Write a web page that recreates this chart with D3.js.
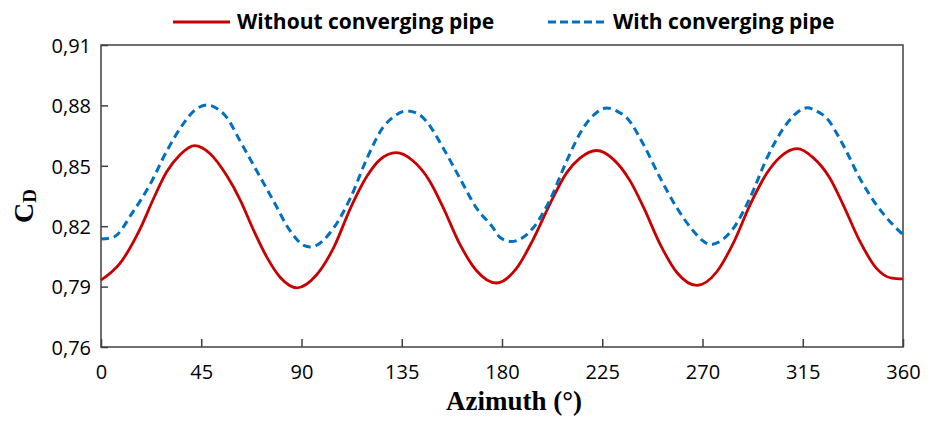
<!DOCTYPE html>
<html lang="en">
<head>
    <meta charset="utf-8">
    <style>
        body { margin: 0; background: #fff; }
        .tick text { font-family: "Open Sans", sans-serif; font-size: 20px; fill: #000; }
        .legend text { font-family: "Open Sans", sans-serif; font-size: 21px; font-weight: bold; fill: #000; }
    </style>
</head>
<body>
<svg id="mainSVG" width="935" height="421"></svg>
<script src="https://cdn.jsdelivr.net/npm/d3@7"></script>
<script>

    // drag coefficient vs azimuth, without the converging pipe
    var azWithout = [0, 8.5, 17.5, 23.5, 29.5, 35.5, 42, 49, 56.5, 62.5, 68.5, 74.5, 80.5, 88,
        96.5, 104.5, 112, 119.5, 125, 132.5, 140, 147.5, 153.5, 161, 168.5, 177.5,
        186.5, 194, 201.5, 209, 215, 222.5, 230, 237.5, 243.5, 251, 258.5, 267.5,
        276.5, 284, 291.5, 299, 305, 312.5, 319.5, 327, 333, 340.5, 348, 355, 360];
    var cdWithout = [0.7932, 0.8015, 0.8185, 0.8335, 0.8470, 0.8555, 0.8600, 0.8560, 0.8450, 0.8330, 0.8180, 0.8045, 0.7945, 0.7894,
        0.7955, 0.8095, 0.8290, 0.8450, 0.8528, 0.8565, 0.8525, 0.8425, 0.8295, 0.8112, 0.7980, 0.7918,
        0.7990, 0.8135, 0.8310, 0.8465, 0.8538, 0.8576, 0.8532, 0.8425, 0.8295, 0.8110, 0.7970, 0.7906,
        0.7975, 0.8120, 0.8310, 0.8465, 0.8545, 0.8585, 0.8542, 0.8442, 0.8310, 0.8128, 0.7992, 0.7942, 0.7938];

    // drag coefficient vs azimuth, with the converging pipe
    var azWith = [0, 5.5, 14.5, 22, 29.5, 37, 42, 47.5, 52, 56.5, 62.5, 70, 77.5, 85, 91, 94,
        104.5, 112, 119.5, 126.5, 131.5, 137, 142, 146, 153.5, 161, 168.5, 176, 179, 184,
        194, 201.5, 209, 216.5, 221.5, 227, 231.5, 236, 243.5, 251, 258.5, 266, 270.5, 273.5,
        284, 291.5, 299, 306.5, 311.5, 317, 321.5, 325.5, 333, 340.5, 348, 354, 360];
    var cdWith = [0.8136, 0.8145, 0.8274, 0.8407, 0.8573, 0.8710, 0.8775, 0.8802, 0.8785, 0.8739, 0.8622, 0.8473, 0.8324, 0.8175, 0.8105, 0.8097,
        0.8192, 0.8341, 0.8540, 0.8689, 0.8745, 0.8772, 0.8760, 0.8722, 0.8590, 0.8440, 0.8291, 0.8192, 0.8145, 0.8124,
        0.8192, 0.8330, 0.8523, 0.8689, 0.8755, 0.8787, 0.8772, 0.8739, 0.8606, 0.8440, 0.8291, 0.8175, 0.8125, 0.8109,
        0.8192, 0.8345, 0.8540, 0.8689, 0.8755, 0.8788, 0.8770, 0.8739, 0.8606, 0.8440, 0.8307, 0.8225, 0.8158];

    var xTicks = [0, 45, 90, 135, 180, 225, 270, 315, 360];
    var yTicks = [0.76, 0.79, 0.82, 0.85, 0.88, 0.91];
    var seriesNames = ["Without converging pipe", "With converging pipe"];

    var svg = d3.select("svg");
    var margin = { left: 101, right: 32, top: 45, bottom: 74 };
    var width = +svg.attr("width"),
        height = +svg.attr("height");

    var x = d3.scaleLinear().domain([0, 360]).range([margin.left, width - margin.right]);
    var y = d3.scaleLinear().domain([0.76, 0.91]).range([height - margin.bottom, margin.top]);

    var axisColor = "#404040";

    // frame
    svg.append("rect")
        .attr("x", x(0)).attr("y", y(0.91))
        .attr("width", x(360) - x(0)).attr("height", y(0.76) - y(0.91))
        .attr("fill", "none").attr("stroke", axisColor).attr("stroke-width", 1.5);

    var xAxis = svg.append("g")
        .attr("transform", "translate(0," + y(0.76) + ")")
        .call(d3.axisBottom(x).tickValues(xTicks).tickSizeInner(-8).tickSizeOuter(0).tickPadding(18));
    xAxis.select(".domain").remove();
    xAxis.selectAll(".tick line").attr("stroke", axisColor).attr("stroke-width", 1.5);

    var yAxis = svg.append("g")
        .attr("transform", "translate(" + x(0) + ",0)")
        .call(d3.axisLeft(y).tickValues(yTicks).tickSizeInner(-7).tickSizeOuter(0).tickPadding(10)
            .tickFormat(function (d) { return d3.format(".2f")(d).replace(".", ","); }));
    yAxis.select(".domain").remove();
    yAxis.selectAll(".tick line").attr("stroke", axisColor).attr("stroke-width", 1.5);
    yAxis.selectAll(".tick text").attr("dy", "0.36em");

    var line = d3.line()
        .x(function (d) { return x(d[0]); })
        .y(function (d) { return y(d[1]); })
        .curve(d3.curveMonotoneX);

    svg.append("path")
        .datum(d3.zip(azWithout, cdWithout))
        .attr("fill", "none")
        .attr("stroke", "#c80000")
        .attr("stroke-width", 2.8)
        .attr("d", line);

    svg.append("path")
        .datum(d3.zip(azWith, cdWith))
        .attr("fill", "none")
        .attr("stroke", "#0070c0")
        .attr("stroke-width", 3)
        .attr("stroke-dasharray", "8,5")
        .attr("d", line);

    // legend
    var legend = svg.append("g").attr("class", "legend");
    legend.append("line")
        .attr("x1", 173).attr("x2", 230).attr("y1", 22).attr("y2", 22)
        .attr("stroke", "#c80000").attr("stroke-width", 3);
    legend.append("text").attr("x", 237).attr("y", 29).text(seriesNames[0]);
    legend.append("line")
        .attr("x1", 548).attr("x2", 607).attr("y1", 22).attr("y2", 22)
        .attr("stroke", "#0070c0").attr("stroke-width", 3).attr("stroke-dasharray", "8,4");
    legend.append("text").attr("x", 613).attr("y", 29).text(seriesNames[1]);

    // axis titles
    svg.append("text")
        .attr("x", 514).attr("y", 410)
        .attr("text-anchor", "middle")
        .attr("font-family", "'Liberation Serif', 'Times New Roman', serif")
        .attr("font-weight", "bold").attr("font-size", 27)
        .text("Azimuth (°)");

    var yTitle = svg.append("text")
        .attr("transform", "translate(33,206) rotate(-90)")
        .attr("text-anchor", "middle")
        .attr("font-family", "'Liberation Serif', 'Times New Roman', serif")
        .attr("font-weight", "bold");
    yTitle.append("tspan").attr("font-size", 28).text("C");
    yTitle.append("tspan").attr("font-size", 19).attr("dy", 3).text("D");

</script>
</body>
</html>
